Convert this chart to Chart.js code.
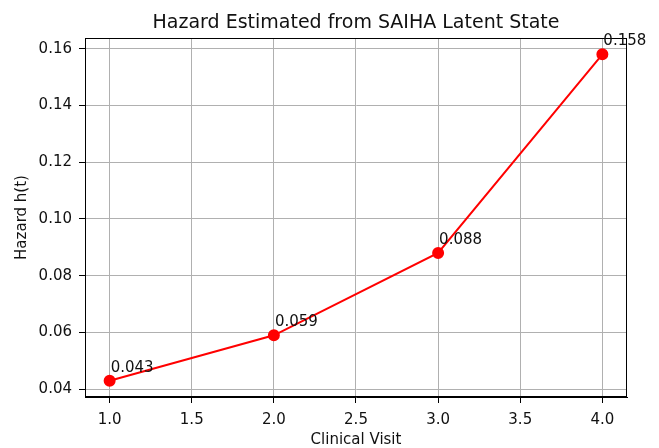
<!DOCTYPE html>
<html>
<head>
<meta charset="utf-8">
<script src="https://cdn.jsdelivr.net/npm/chart.js@4/dist/chart.umd.min.js"></script>
<style>
  html, body { margin: 0; padding: 0; background: #fff; }
  #wrap { width: 659px; height: 448px; }
</style>
</head>
<body>
<div id="wrap"><canvas id="hazard-chart" width="659" height="448"></canvas></div>
<script>
const visits = [1, 2, 3, 4];
const hazard = [0.043, 0.059, 0.088, 0.158];
const xTicks = [1.0, 1.5, 2.0, 2.5, 3.0, 3.5, 4.0];
const yTicks = [0.04, 0.06, 0.08, 0.10, 0.12, 0.14, 0.16];

const FONT = "'DejaVu Sans', sans-serif";

const framePlugin = {
  id: "frame",
  afterDraw(chart) {
    const { ctx, chartArea: a, scales } = chart;
    ctx.save();
    // box around plot
    ctx.strokeStyle = "#000";
    ctx.lineWidth = 1;
    ctx.strokeRect(a.left + 0.5, a.top + 0.5, a.right - a.left - 1, a.bottom - a.top - 1);
    // value labels
    ctx.fillStyle = "#111";
    ctx.font = "15px " + FONT;
    ctx.textAlign = "left";
    ctx.textBaseline = "alphabetic";
    visits.forEach((v, i) => {
      const px = scales.x.getPixelForValue(v);
      const py = scales.y.getPixelForValue(hazard[i]);
      ctx.fillText(hazard[i].toFixed(3), px + 1, py - 9);
    });
    // title
    ctx.font = "19px " + FONT;
    ctx.textAlign = "center";
    ctx.fillStyle = "#111";
    ctx.fillText("Hazard Estimated from SAIHA Latent State", (a.left + a.right) / 2, 28);
    ctx.restore();
  }
};

new Chart(document.getElementById("hazard-chart").getContext("2d"), {
  type: "line",
  data: {
    datasets: [{
      label: "Hazard",
      data: visits.map((v, i) => ({ x: v, y: hazard[i] })),
      borderColor: "#ff0000",
      backgroundColor: "#ff0000",
      borderWidth: 2,
      pointRadius: 5,
      pointHoverRadius: 5,
      tension: 0,
    }],
  },
  options: {
    responsive: false,
    animation: false,
    events: [],
    layout: { padding: { top: 38, right: 32, left: 0, bottom: 0 } },
    plugins: { legend: { display: false }, tooltip: { enabled: false } },
    scales: {
      x: {
        type: "linear",
        min: 0.85,
        max: 4.15,
        afterBuildTicks: s => { s.ticks = xTicks.map(v => ({ value: v })); },
        afterFit: s => { s.height = 51; },
        ticks: { color: "#111", font: { family: FONT, size: 15 }, padding: 8, maxRotation: 0,
          callback: v => v.toFixed(1) },
        grid: { color: "#b0b0b0", lineWidth: 1, tickLength: 6, tickColor: "#000" },
        border: { display: true, color: "#000" },
        title: { display: true, text: "Clinical Visit", color: "#111", font: { family: FONT, size: 15 }, padding: { top: 0, bottom: -1 } },
      },
      y: {
        type: "linear",
        min: 0.03725,
        max: 0.16375,
        afterBuildTicks: s => { s.ticks = yTicks.map(v => ({ value: v })); },
        afterFit: s => { s.width = 85; },
        ticks: { color: "#111", font: { family: FONT, size: 15 }, padding: 7,
          callback: v => v.toFixed(2) },
        grid: { color: "#b0b0b0", lineWidth: 1, tickLength: 6, tickColor: "#000" },
        border: { display: true, color: "#000" },
        title: { display: true, text: "Hazard h(t)", color: "#111", font: { family: FONT, size: 15 }, padding: { top: 13, bottom: 0 } },
      },
    },
  },
  plugins: [framePlugin],
});
</script>
</body>
</html>
